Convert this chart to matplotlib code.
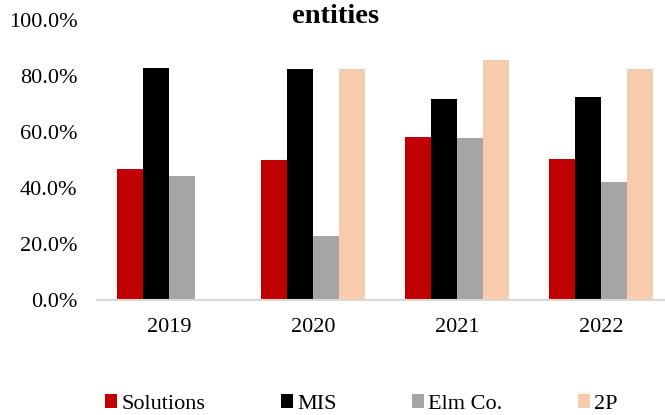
import matplotlib.pyplot as plt
import numpy as np
from matplotlib.ticker import PercentFormatter

years = ["2019", "2020", "2021", "2022"]
series = ["Solutions", "MIS", "Elm Co.", "2P"]
solutions = [46.8, 50.1, 58.3, 50.3]
mis = [83.0, 82.6, 71.7, 72.6]
elm = [44.3, 22.8, 57.9, 42.0]
two_p = [np.nan, 82.5, 85.8, 82.5]
colors = ["#C00000", "#000000", "#A5A5A5", "#F8CBAD"]

plt.rcParams['font.family'] = ['Liberation Serif', 'DejaVu Serif']

fig = plt.figure(figsize=(6.65, 4.15), dpi=100)
ax = fig.add_axes([97 / 665, 115 / 415, 576 / 665, 280 / 415])

x = np.arange(len(years))
w = 26 / 144
for i, (name, vals) in enumerate(zip(series, [solutions, mis, elm, two_p])):
    ax.bar(x + (i - 1.5) * w, vals, w, color=colors[i], label=name, zorder=2)

ax.set_xlim(-0.5, 3.5)
ax.set_ylim(0, 100)
ax.set_yticks(np.arange(0, 101, 20))
ax.yaxis.set_major_formatter(PercentFormatter(decimals=1))
ax.set_xticks(x)
ax.set_xticklabels(years)
ax.tick_params(axis='y', length=0, pad=14, labelsize=16)
ax.tick_params(axis='x', length=0, pad=13, labelsize=16)
for s in ["top", "right", "left"]:
    ax.spines[s].set_visible(False)
ax.spines["bottom"].set_color("#D9D9D9")
ax.spines["bottom"].set_linewidth(1.5)

fig.text(336 / 665, 1 - 23 / 415, "entities", ha="center", va="baseline",
         fontsize=20.5, fontweight="bold")

fig.legend(loc="center left", bbox_to_anchor=(105 / 665, 1 - 404 / 415), ncol=4,
           frameon=False, fontsize=16, handlelength=0.55, handleheight=0.55,
           handletextpad=0.18, columnspacing=3.4, borderaxespad=0, borderpad=0)

fig.savefig("out.png", dpi=100)
